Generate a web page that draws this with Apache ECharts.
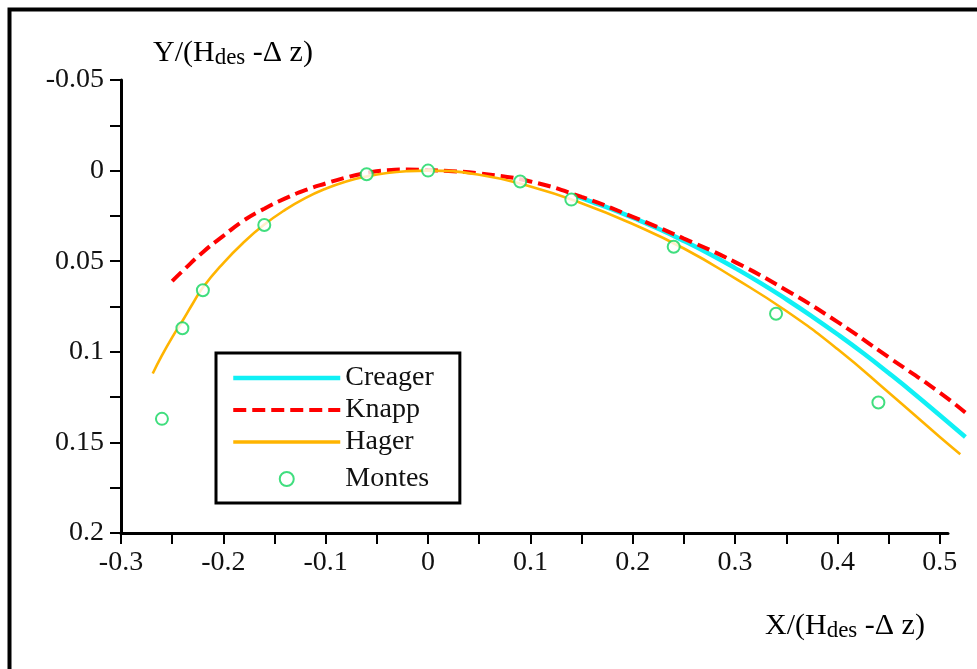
<!DOCTYPE html>
<html>
<head>
<meta charset="utf-8">
<script src="https://cdn.jsdelivr.net/npm/echarts@6/dist/echarts.min.js"></script>
<style>
  html, body { margin: 0; padding: 0; background: #fff; }
  #chart { width: 977px; height: 669px; }
</style>
</head>
<body>
<div id="chart"></div>
<script>
// Crest profile comparison: Y/(Hdes-Δz) against X/(Hdes-Δz)
const xTicks = [-0.3, -0.25, -0.2, -0.15, -0.1, -0.05, 0, 0.05, 0.1, 0.15, 0.2, 0.25, 0.3, 0.35, 0.4, 0.45, 0.5];
const xLabels = [-0.3, -0.2, -0.1, 0, 0.1, 0.2, 0.3, 0.4, 0.5];
const yTicks = [-0.05, -0.025, 0, 0.025, 0.05, 0.075, 0.1, 0.125, 0.15, 0.175, 0.2];
const yLabels = [-0.05, 0, 0.05, 0.1, 0.15, 0.2];

const creagerX = [0.145, 0.16, 0.18, 0.2, 0.225, 0.25, 0.275, 0.3, 0.325, 0.35, 0.375, 0.4, 0.425, 0.45, 0.475, 0.5, 0.525];
const creagerY = [0.0141, 0.0172, 0.0214, 0.026, 0.0321, 0.0388, 0.046, 0.0538, 0.0621, 0.071, 0.0804, 0.0903, 0.1007, 0.1117, 0.1231, 0.135, 0.147];

const knappX = [-0.25, -0.24, -0.22, -0.2, -0.18, -0.16, -0.14, -0.12, -0.1, -0.08, -0.06, -0.04, -0.02, 0, 0.02, 0.05, 0.1, 0.15, 0.2, 0.25, 0.3, 0.35, 0.4, 0.45, 0.5, 0.527];
const knappY = [0.061, 0.0555, 0.045, 0.036, 0.0275, 0.021, 0.0155, 0.0108, 0.0071, 0.0038, 0.0013, -0.0002, -0.0006, -0.0003, 0.0002, 0.0015, 0.006, 0.0145, 0.0255, 0.0375, 0.0505, 0.066, 0.0835, 0.103, 0.1225, 0.1345];

const hagerX = [-0.269, -0.26, -0.25, -0.24, -0.23, -0.22, -0.2, -0.18, -0.16, -0.14, -0.12, -0.1, -0.08, -0.06, -0.04, -0.02, 0, 0.05, 0.1, 0.15, 0.2, 0.25, 0.3, 0.35, 0.4, 0.45, 0.5, 0.52];
const hagerY = [0.112, 0.102, 0.092, 0.083, 0.0735, 0.0645, 0.051, 0.0395, 0.0298, 0.0218, 0.0152, 0.01, 0.006, 0.0032, 0.0013, 0.0003, 0, 0.0023, 0.0088, 0.018, 0.0295, 0.043, 0.0595, 0.0775, 0.0985, 0.1225, 0.147, 0.1565];

const montesX = [-0.26, -0.24, -0.22, -0.16, -0.06, 0, 0.09, 0.14, 0.24, 0.34, 0.44];
const montesY = [0.137, 0.087, 0.066, 0.03, 0.002, 0, 0.006, 0.016, 0.042, 0.079, 0.128];

const pairs = (xs, ys) => xs.map((x, i) => [x, ys[i]]);

const SERIF = '"Liberation Serif", "Times New Roman", serif';
const titleRich = {
  m: { fontFamily: SERIF, fontSize: 30, color: '#111' },
  s: { fontFamily: SERIF, fontSize: 23, color: '#111', padding: [10, 0, 0, 0] }
};

// Visible axes stop at 0.508; the curves run a little past that end,
// so they are plotted on a twin grid with the same scale and a longer range.
const X_MIN = -0.3, X_AXIS_MAX = 0.508, X_PLOT_MAX = 0.535;
const GRID_LEFT = 121, GRID_TOP = 80, GRID_H = 453, GRID_W = 827;
const pxPerUnit = GRID_W / (X_AXIS_MAX - X_MIN);

const hiddenAxis = {
  show: false, splitLine: { show: false }, axisLine: { show: false },
  axisTick: { show: false }, axisLabel: { show: false }
};

const CREAGER = '#10F0F5', KNAPP = '#FF0000', HAGER = '#FFB400', MONTES = '#10D65E';

const lineSeries = (name, xs, ys, color, lineStyle, z) => ({
  name, type: 'line', data: pairs(xs, ys), xAxisIndex: 1, yAxisIndex: 1,
  smooth: true, showSymbol: false, symbol: 'none', clip: false, z,
  lineStyle: Object.assign({ color }, lineStyle), itemStyle: { color }
});

const chart = echarts.init(document.getElementById('chart'), null, { renderer: 'canvas' });

chart.setOption({
  backgroundColor: '#fff',
  animation: false,
  grid: [
    { left: GRID_LEFT, top: GRID_TOP, width: GRID_W, height: GRID_H, containLabel: false },
    { left: GRID_LEFT, top: GRID_TOP, width: pxPerUnit * (X_PLOT_MAX - X_MIN), height: GRID_H, containLabel: false }
  ],
  xAxis: [
    {
      type: 'value', gridIndex: 0, min: X_MIN, max: X_AXIS_MAX,
      splitLine: { show: false },
      axisLine: { onZero: false, lineStyle: { color: '#000', width: 3 } },
      axisTick: { customValues: xTicks, length: 11, inside: false, lineStyle: { color: '#000', width: 2 } },
      axisLabel: { customValues: xLabels, margin: 16, fontFamily: SERIF, fontSize: 28, color: '#111' }
    },
    Object.assign({ type: 'value', gridIndex: 1, min: X_MIN, max: X_PLOT_MAX }, hiddenAxis)
  ],
  yAxis: [
    {
      type: 'value', gridIndex: 0, inverse: true, min: -0.05, max: 0.2, interval: 0.025,
      splitLine: { show: false },
      axisLine: { onZero: false, lineStyle: { color: '#000', width: 3 } },
      axisTick: { customValues: yTicks, length: 11, inside: false, lineStyle: { color: '#000', width: 2 } },
      axisLabel: { customValues: yLabels, margin: 17, fontFamily: SERIF, fontSize: 28, color: '#111' }
    },
    Object.assign({ type: 'value', gridIndex: 1, inverse: true, min: -0.05, max: 0.2 }, hiddenAxis)
  ],
  legend: {
    orient: 'vertical',
    left: 216,
    top: 353,
    padding: [11, 26, 5, 15],
    itemWidth: 107,
    itemHeight: 14,
    itemGap: 4,
    borderColor: '#000',
    borderWidth: 3,
    backgroundColor: '#fff',
    textStyle: { fontFamily: SERIF, fontSize: 28, color: '#111', lineHeight: 28 },
    data: [
      { name: 'Creager', itemStyle: { opacity: 0 }, lineStyle: { color: CREAGER, width: 4.5 } },
      { name: 'Knapp', itemStyle: { opacity: 0 }, lineStyle: { color: KNAPP, width: 4, type: [13, 6] } },
      { name: 'Hager', itemStyle: { opacity: 0 }, lineStyle: { color: HAGER, width: 3.5 } },
      { name: 'Montes', textStyle: { lineHeight: 38 } }
    ]
  },
  series: [
    lineSeries('Creager', creagerX, creagerY, CREAGER, { width: 4.5 }, 3),
    lineSeries('Knapp', knappX, knappY, KNAPP, { width: 4, type: [13, 6] }, 4),
    lineSeries('Hager', hagerX, hagerY, HAGER, { width: 2.6 }, 5),
    {
      name: 'Montes', type: 'scatter', data: pairs(montesX, montesY), xAxisIndex: 1, yAxisIndex: 1,
      symbol: 'emptyCircle', symbolSize: 12, clip: false, z: 6,
      itemStyle: { color: MONTES, borderColor: MONTES, borderWidth: 2.6 }
    }
  ],
  graphic: [
    {
      type: 'rect', silent: true, z: 0,
      shape: { x: 9.5, y: 9.5, width: 1000, height: 700 },
      style: { fill: 'none', stroke: '#000', lineWidth: 4 }
    },
    {
      type: 'text', silent: true, x: 153, y: 53,
      style: { text: '{m|Y/(H}{s|des}{m| -Δ z)}', rich: titleRich, verticalAlign: 'middle', align: 'left' }
    },
    {
      type: 'text', silent: true, x: 765, y: 626,
      style: { text: '{m|X/(H}{s|des}{m| -Δ z)}', rich: titleRich, verticalAlign: 'middle', align: 'left' }
    }
  ]
});
</script>
</body>
</html>
